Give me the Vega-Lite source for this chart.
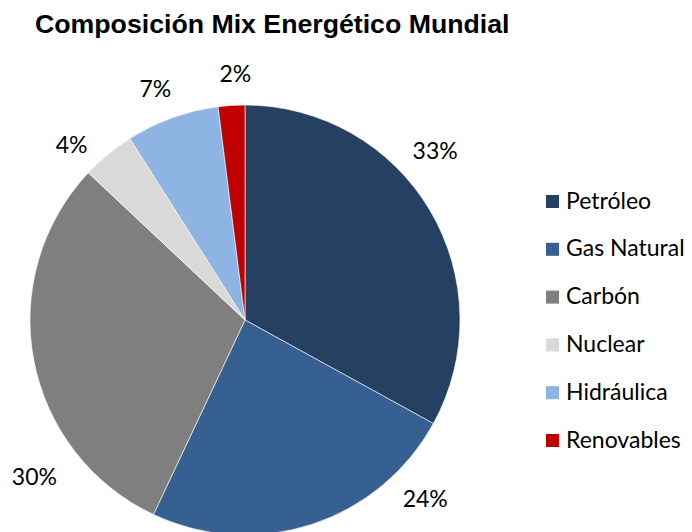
{
  "$schema": "https://vega.github.io/schema/vega-lite/v6.json",
  "autosize": "none",
  "width": 490,
  "height": 520,
  "padding": {"top": 60, "left": 0, "right": 202, "bottom": 0},
  "background": "white",
  "title": {
    "text": "Composición Mix Energético Mundial",
    "font": "Liberation Sans",
    "fontSize": 26.7,
    "fontWeight": "bold",
    "color": "black",
    "anchor": "start",
    "dx": 35,
    "offset": 21
  },
  "data": {
    "values": [
      {"fuente": "Petróleo", "valor": 0.33, "orden": 1},
      {"fuente": "Gas Natural", "valor": 0.24, "orden": 2},
      {"fuente": "Carbón", "valor": 0.30, "orden": 3},
      {"fuente": "Nuclear", "valor": 0.04, "orden": 4},
      {"fuente": "Hidráulica", "valor": 0.07, "orden": 5},
      {"fuente": "Renovables", "valor": 0.02, "orden": 6}
    ]
  },
  "encoding": {
    "theta": {"field": "valor", "type": "quantitative", "stack": true},
    "order": {"field": "orden", "type": "quantitative"}
  },
  "layer": [
    {
      "mark": {"type": "arc", "outerRadius": 215, "stroke": "white", "strokeWidth": 0.6},
      "encoding": {
        "color": {
          "field": "fuente",
          "type": "nominal",
          "scale": {
            "domain": ["Petróleo", "Gas Natural", "Carbón", "Nuclear", "Hidráulica", "Renovables"],
            "range": ["#254061", "#376092", "#7F7F7F", "#D9D9D9", "#8EB4E3", "#C00000"]
          },
          "legend": {
            "title": null,
            "orient": "none",
            "legendX": 541,
            "legendY": 130,
            "symbolType": "square",
            "symbolSize": 170,
            "symbolStrokeWidth": 0,
            "labelFont": "Lato",
            "labelFontSize": 23,
            "labelColor": "black",
            "labelOffset": 2,
            "rowPadding": 23.8,
            "labelLimit": 300
          }
        }
      }
    },
    {
      "mark": {
        "type": "text",
        "radius": 250,
        "font": "Lato",
        "fontSize": 23,
        "color": "black",
        "dx": {"expr": "datum.fuente == 'Petróleo' ? -25 : datum.fuente == 'Gas Natural' ? 103 : datum.fuente == 'Carbón' ? 35 : datum.fuente == 'Nuclear' ? -14 : datum.fuente == 'Hidráulica' ? -5 : 6"},
        "dy": {"expr": "datum.fuente == 'Petróleo' ? -41 : datum.fuente == 'Gas Natural' ? -58 : datum.fuente == 'Carbón' ? 111 : datum.fuente == 'Nuclear' ? 19 : datum.fuente == 'Hidráulica' ? 5 : 5"}
      },
      "encoding": {
        "text": {"field": "valor", "type": "quantitative", "format": ".0%"},
        "detail": {"field": "fuente", "type": "nominal"}
      }
    }
  ]
}
